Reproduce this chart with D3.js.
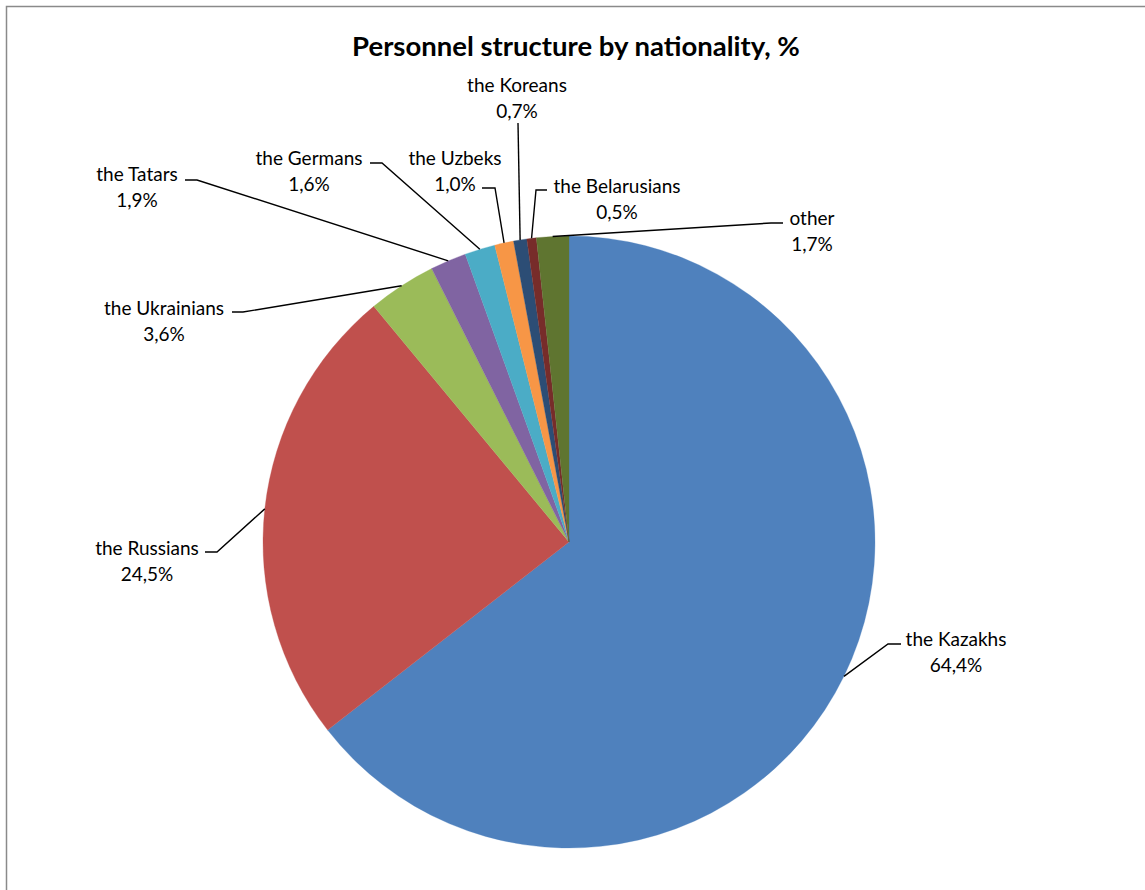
<!DOCTYPE html>
<html>
<head>
<meta charset="utf-8">
<script src="https://cdn.jsdelivr.net/npm/d3@7"></script>
<style>
  html, body { margin: 0; padding: 0; background: #fff; }
  svg { display: block; }
  text { font-family: Lato, "Open Sans", "Liberation Sans", sans-serif; fill: #000; }
</style>
</head>
<body>
<svg id="chart" width="1145" height="890"></svg>
<script>
// Nationality shares of personnel, clockwise from 12 o'clock
const categories = ["the Kazakhs", "the Russians", "the Ukrainians", "the Tatars", "the Germans",
                    "the Uzbeks", "the Koreans", "the Belarusians", "other"];
const shares = [64.4, 24.5, 3.6, 1.9, 1.6, 1.0, 0.7, 0.5, 1.7];
const shareLabels = ["64,4%", "24,5%", "3,6%", "1,9%", "1,6%", "1,0%", "0,7%", "0,5%", "1,7%"];
const palette = ["#4F81BD", "#C0504D", "#9BBB59", "#8064A2", "#4BACC6",
                 "#F79646", "#2C4D75", "#772C2A", "#5F7530"];

// Label placement: text centre (x, y of first line) and the elbow points of each leader line
const labelLayout = [
  { x: 956, y: 638, elbow: [[901, 644], [888, 644]] },
  { x: 147, y: 547, elbow: [[205, 552], [217, 552]] },
  { x: 164, y: 307, elbow: [[232, 312], [243, 312]] },
  { x: 137, y: 173, elbow: [[185, 180], [197, 180]] },
  { x: 309, y: 157, elbow: [[370, 163], [382, 163]] },
  { x: 455, y: 157, elbow: [[482, 188], [495, 188]] },
  { x: 517, y: 84,  elbow: [[518, 123]] },
  { x: 617, y: 185, elbow: [[547, 190], [536, 190]] },
  { x: 812, y: 217, elbow: [[783, 223], [771, 223]] }
];

const svg = d3.select("#chart");
const cx = 569, cy = 542, R = 306;

// outer frame
svg.append("rect")
  .attr("x", 6.5).attr("y", 6.5)
  .attr("width", 1200).attr("height", 1000)
  .attr("fill", "#fff")
  .attr("stroke", "#8a8a8a").attr("stroke-width", 1.5);

svg.append("text")
  .attr("x", 576).attr("y", 56)
  .attr("text-anchor", "middle")
  .attr("font-weight", "bold")
  .attr("font-size", 27.5)
  .text("Personnel structure by nationality, %");

const pie = d3.pie().sort(null).value(d => d)(shares);
const arc = d3.arc().innerRadius(0).outerRadius(R);
const g = svg.append("g").attr("transform", `translate(${cx},${cy})`);

g.selectAll("path.slice")
  .data(pie)
  .join("path")
  .attr("class", "slice")
  .attr("d", arc)
  .attr("fill", (d, i) => palette[i])
  .attr("stroke", (d, i) => palette[i])
  .attr("stroke-width", 0.3);

// leader lines: from elbow points to the slice's outer mid-point
const line = d3.line();
pie.forEach((d, i) => {
  const mid = (d.startAngle + d.endAngle) / 2;
  const edge = [cx + R * Math.sin(mid), cy - R * Math.cos(mid)];
  const pts = labelLayout[i].elbow.concat([edge]);
  svg.append("path")
    .attr("d", line(pts))
    .attr("fill", "none")
    .attr("stroke", "#000")
    .attr("stroke-width", 1.4);
});

const labels = svg.append("g").attr("font-size", 19);
categories.forEach((c, i) => {
  const L = labelLayout[i];
  const t = labels.append("text")
    .attr("text-anchor", "middle")
    .attr("dominant-baseline", "central");
  t.append("tspan").attr("x", L.x).attr("y", L.y).text(c);
  t.append("tspan").attr("x", L.x).attr("y", L.y + 26).text(shareLabels[i]);
});
</script>
</body>
</html>
